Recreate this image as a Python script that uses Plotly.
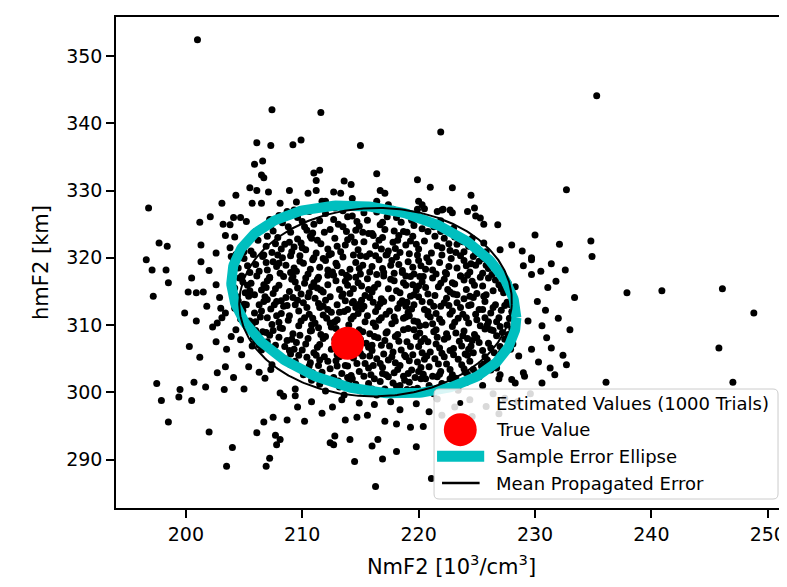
import numpy as np
import plotly.graph_objects as go

# ---------------- data ----------------
core_points = [
(207.5,324.0),(208.3,325.2),(209.0,323.8),(209.6,326.0),(210.2,324.6),(210.9,323.7),(211.5,325.5),(212.0,326.6),(212.4,324.2),(213.1,325.0),(213.8,323.9),(214.3,326.2),(214.9,324.7),(215.6,325.6),(216.0,323.6),(216.7,324.9),(217.3,326.1),(217.9,324.0),(218.5,325.3),(219.0,323.8),(219.6,324.8),(220.2,326.0),(220.8,323.9),(221.3,324.6),(210.6,326.9),(213.5,327.0),(216.4,326.8),(218.9,326.7),(208.8,324.6),(215.2,323.8),
(205.6,321.0),(206.2,322.6),(206.9,321.7),(207.4,320.8),(207.9,323.0),(208.5,322.0),(209.1,320.9),(209.6,322.8),(210.0,321.5),(210.7,323.2),(211.2,320.7),(211.6,322.1),(212.2,321.3),(212.8,322.9),(213.3,320.9),(213.7,321.9),(214.2,323.1),(214.8,321.2),(215.3,322.4),(215.8,320.6),(216.3,321.8),(216.9,323.0),(217.4,321.0),(217.8,322.3),(218.4,320.8),(218.9,321.9),(219.5,323.2),(220.0,321.3),(220.5,322.5),(221.1,320.7),(221.6,321.8),(222.2,322.9),(222.7,321.1),(223.3,322.0),(223.9,320.9),(224.3,321.7),(212.5,320.6),(216.1,323.3),(219.2,320.6),(208.2,321.3),
(204.5,318.5),(205.0,319.9),(205.5,317.8),(206.0,319.0),(206.6,320.2),(207.0,318.2),(207.5,319.4),(208.1,317.7),(208.6,318.9),(209.0,320.3),(209.5,318.0),(210.1,319.2),(210.5,317.6),(211.0,320.0),(211.5,318.6),(212.0,319.6),(212.6,317.9),(213.0,318.8),(213.5,320.1),(214.1,318.3),(214.6,319.3),(215.0,317.6),(215.5,320.2),(216.0,318.7),(216.6,319.7),(217.0,317.8),(217.6,318.9),(218.1,320.1),(218.6,318.1),(219.1,319.4),(219.6,317.6),(220.2,318.8),(220.7,320.0),(221.2,318.2),(221.8,319.3),(222.3,317.8),(222.8,319.9),(223.3,318.5),(223.9,319.6),(224.4,317.9),(224.9,318.9),(225.5,317.7),(226.0,318.4),(212.3,320.4),(215.8,317.9),(219.9,320.4),(207.9,320.4),(223.6,320.3),
(204.2,315.5),(204.6,317.0),(205.1,314.8),(205.6,316.2),(206.1,317.3),(206.5,315.2),(207.0,316.6),(207.5,314.7),(208.0,315.9),(208.4,317.2),(208.9,315.0),(209.4,316.4),(209.9,314.6),(210.3,317.0),(210.8,315.7),(211.3,316.8),(211.8,314.9),(212.2,316.0),(212.7,317.4),(213.2,315.3),(213.7,316.5),(214.1,314.7),(214.6,317.1),(215.1,315.8),(215.6,316.9),(216.0,314.9),(216.5,316.1),(217.0,317.3),(217.4,315.4),(217.9,316.6),(218.4,314.8),(218.9,315.9),(219.3,317.2),(219.8,315.2),(220.3,316.4),(220.8,314.6),(221.2,317.0),(221.7,315.7),(222.2,316.8),(222.7,314.9),(223.1,316.1),(223.6,317.3),(224.1,315.3),(224.6,316.5),(225.0,314.7),(225.5,315.8),(226.0,317.0),(226.4,315.1),(226.9,316.0),(227.3,314.8),(213.5,314.6),(219.5,316.0),
(204.5,313.6),(204.9,312.2),(205.4,314.3),(205.9,311.8),(206.3,313.0),(206.8,314.2),(207.3,312.4),(207.8,313.5),(208.2,311.7),(208.7,312.9),(209.2,314.1),(209.7,312.1),(210.1,313.3),(210.6,311.6),(211.1,314.0),(211.5,312.6),(212.0,313.7),(212.5,311.9),(213.0,313.0),(213.4,314.3),(213.9,312.3),(214.4,313.5),(214.8,311.7),(215.3,312.8),(215.8,314.1),(216.3,312.0),(216.7,313.2),(217.2,311.6),(217.7,314.0),(218.2,312.5),(218.6,313.6),(219.1,311.9),(219.6,313.0),(220.0,314.2),(220.5,312.3),(221.0,313.4),(221.5,311.7),(221.9,312.8),(222.4,314.0),(222.9,312.1),(223.3,313.3),(223.8,311.6),(224.3,312.9),(224.7,314.1),(225.2,312.3),(225.7,313.5),(226.2,311.8),(226.6,313.0),(227.1,312.2),(227.6,313.4),(228.0,312.0),(211.8,311.5),
(205.5,310.6),(206.0,309.2),(206.4,311.2),(206.9,308.9),(207.4,310.1),(207.8,311.4),(208.3,309.5),(208.8,310.7),(209.2,308.7),(209.7,309.9),(210.2,311.1),(210.7,309.1),(211.1,310.3),(211.6,308.6),(212.1,311.0),(212.5,309.7),(213.0,310.8),(213.5,308.9),(214.0,310.0),(214.4,311.3),(214.9,309.3),(215.4,310.5),(215.8,308.7),(216.3,309.8),(216.8,311.1),(217.3,309.0),(217.7,310.2),(218.2,308.6),(218.7,311.0),(219.1,309.5),(219.6,310.6),(220.1,308.8),(220.6,310.0),(221.0,311.2),(221.5,309.3),(222.0,310.4),(222.4,308.7),(222.9,309.8),(223.4,311.0),(223.9,309.1),(224.3,310.3),(224.8,308.6),(225.3,309.9),(225.7,311.1),(226.2,309.3),(226.7,310.5),(227.2,308.9),(227.6,310.0),(228.0,309.4),(219.2,311.4),
(207.0,307.5),(207.5,306.1),(208.0,308.2),(208.5,306.8),(209.0,305.7),(209.5,307.4),(210.0,306.3),(210.5,308.0),(211.0,305.9),(211.5,307.1),(212.0,308.3),(212.5,306.4),(213.0,305.6),(213.6,306.9),(214.3,308.2),(215.0,305.8),(215.5,307.3),(216.0,306.2),(216.5,308.1),(217.0,305.7),(217.5,306.9),(218.0,308.3),(218.5,306.3),(219.0,307.5),(219.5,305.6),(220.0,306.8),(220.5,308.0),(221.0,306.0),(221.5,307.2),(222.0,305.8),(222.5,308.2),(223.0,306.5),(223.5,307.6),(224.0,305.7),(224.5,306.9),(225.0,308.1),(225.5,306.2),(226.0,307.3),(226.5,305.9),(227.0,306.8),(227.4,307.9),(212.8,307.9),(218.8,305.5),(223.8,308.4),
(209.4,304.6),(209.9,303.3),(210.4,305.2),(210.9,302.9),(211.4,304.0),(211.9,305.3),(212.4,303.5),(212.9,304.7),(213.4,302.8),(213.9,303.9),(214.4,305.1),(214.9,303.1),(215.4,304.3),(215.9,302.6),(216.4,305.0),(216.9,303.7),(217.4,304.8),(217.9,302.9),(218.4,304.0),(218.9,305.3),(219.4,303.3),(219.9,304.5),(220.4,302.7),(220.9,303.8),(221.4,305.0),(221.9,303.1),(222.4,304.2),(222.9,302.6),(223.4,304.9),(223.9,303.5),(224.4,304.6),(224.9,302.9),(225.4,303.9),(225.9,304.8),
(212.5,301.9),(213.2,300.8),(213.9,302.2),(214.6,301.2),(215.3,302.4),(216.0,300.5),(216.7,301.6),(217.4,302.3),(218.1,300.9),(218.8,301.8),(219.5,300.4),(220.2,302.0),(220.9,301.0),(221.6,302.3),(222.3,300.7),(223.0,301.6),
]

core_points_2 = [
(208.0,326.3),(209.3,327.1),(211.0,325.0),(212.8,327.4),(214.7,325.4),(215.9,327.5),(217.8,327.2),(219.4,325.6),(220.5,327.3),(221.9,325.5),(210.0,325.4),(213.9,326.1),(216.9,325.3),(218.3,323.3),
(205.2,322.4),(206.0,323.9),(206.7,320.4),(207.3,324.8),(208.9,322.3),(209.3,321.6),(210.4,324.1),(211.3,322.6),(211.9,323.8),(213.0,321.7),(213.5,324.6),(214.5,322.3),(215.0,320.3),(215.7,323.6),(216.6,322.6),(217.1,324.2),(218.0,321.4),(218.7,323.9),(219.8,322.0),(220.3,324.3),(221.4,323.2),(222.0,321.5),(222.5,324.0),(223.1,323.1),(223.8,322.4),(224.6,322.9),(225.1,321.3),(225.6,322.2),(209.8,320.3),(217.2,320.4),
(204.1,319.6),(204.8,317.3),(205.8,320.5),(206.3,318.0),(207.2,317.1),(207.8,318.7),(208.3,320.0),(209.2,317.2),(209.8,319.5),(210.7,318.3),(211.4,317.1),(212.2,318.2),(212.9,319.2),(213.8,317.4),(214.4,320.4),(215.2,318.9),(216.3,320.3),(216.9,318.4),(217.3,320.5),(218.3,319.0),(218.9,317.3),(219.5,318.6),(220.4,317.2),(220.9,319.4),(221.5,317.6),(222.0,320.4),(222.6,318.7),(223.6,317.3),(224.1,318.8),(224.7,320.2),(225.2,319.5),(225.8,318.9),(226.3,317.5),(205.3,318.8),(210.9,319.7),(214.0,317.1),
(203.9,316.3),(204.4,314.2),(205.3,315.9),(205.9,314.5),(206.7,316.0),(207.2,317.0),(207.7,315.4),(208.6,314.1),(209.1,316.8),(209.6,315.5),(210.5,314.2),(211.0,316.3),(211.6,315.2),(212.4,314.2),(212.9,316.6),(213.9,315.9),(214.3,313.3),(214.8,316.3),(215.4,314.4),(216.2,315.6),(216.8,313.9),(217.6,316.8),(218.1,315.1),(218.7,316.3),(219.6,314.5),(220.1,317.2),(220.6,315.6),(221.4,314.4),(221.9,316.2),(222.5,315.3),(223.3,314.5),(223.9,316.7),(224.4,314.3),(224.8,315.9),(225.3,317.1),(225.8,314.5),(226.6,316.7),(227.1,315.4),(227.7,316.2),(228.0,314.4),(208.2,313.6),(219.0,313.4),
(204.2,312.5),(204.7,310.9),(205.2,313.0),(205.7,310.1),(206.5,312.1),(207.0,311.1),(207.6,313.0),(208.0,310.4),(208.9,311.4),(209.4,313.0),(209.9,310.6),(210.4,312.6),(210.9,311.0),(211.4,313.2),(212.2,312.3),(212.8,310.5),(213.2,311.9),(213.7,313.6),(214.2,310.9),(214.6,312.6),(215.1,313.7),(215.6,311.4),(216.1,310.3),(216.5,312.7),(217.0,313.5),(217.5,312.1),(218.0,310.6),(218.4,313.2),(218.9,311.2),(219.4,312.4),(219.9,310.5),(220.3,313.5),(220.8,311.5),(221.3,312.8),(221.8,310.9),(222.2,313.3),(222.7,311.6),(223.1,310.4),(223.6,312.6),(224.1,311.1),(224.5,313.0),(225.0,310.8),(225.5,312.3),(226.0,310.5),(226.4,312.6),(226.9,311.1),(227.4,312.9),(227.8,311.0),(228.2,310.6),
(205.8,308.2),(206.3,307.0),(206.6,309.0),(207.2,308.5),(207.7,307.0),(208.1,309.6),(208.7,307.7),(209.3,306.4),(209.8,308.5),(210.3,307.2),(210.8,309.2),(211.3,306.7),(211.8,308.0),(214.8,306.5),(215.2,309.0),(215.7,306.7),(216.2,308.3),(216.8,307.0),(217.2,308.8),(217.8,306.0),(218.3,307.6),(218.7,309.3),(219.3,306.8),(219.8,308.3),(220.3,305.9),(220.8,307.5),(221.3,309.0),(221.8,306.6),(222.2,307.9),(222.7,306.2),(223.2,308.8),(223.7,306.9),(224.2,308.0),(224.7,305.9),(225.2,307.4),(225.7,309.4),(226.2,306.6),(226.7,308.4),(227.2,306.3),(227.7,308.6),(228.1,307.2),
(208.5,305.0),(209.0,304.1),(209.7,305.5),(210.1,302.6),(210.7,304.4),(211.2,305.5),(211.7,303.0),(212.2,304.6),(212.7,302.2),(213.2,305.3),(213.7,304.0),(214.2,302.5),(214.7,304.3),(215.2,305.4),(215.7,303.6),(216.2,302.0),(216.7,304.3),(217.2,302.6),(217.7,305.3),(218.2,303.4),(218.7,302.4),(219.2,304.7),(219.7,302.2),(220.2,303.7),(220.7,305.4),(221.2,302.4),(221.7,304.2),(222.2,305.3),(222.7,303.4),(223.2,302.1),(223.7,304.1),(224.2,305.5),(224.7,303.4),(225.2,302.3),(225.7,305.3),(226.2,303.3),(226.6,304.3),(227.0,302.6),
(211.5,301.2),(212.0,300.2),(213.6,299.6),(214.3,302.0),(215.0,300.2),(215.7,301.3),(216.4,299.6),(217.1,300.5),(217.8,301.4),(218.5,299.7),(219.2,301.5),(219.9,300.6),(220.6,302.0),(221.3,299.8),(222.0,301.3),(222.7,302.0),(223.4,300.3),(224.1,301.5),(224.8,302.2),(225.5,301.0),(210.8,301.8),
]

core_points_3 = [
(206.4,324.3),(209.9,322.2),(212.7,325.7),(215.3,326.7),(218.1,326.0),(220.9,325.3),(223.0,324.4),(207.7,322.1),(210.3,321.2),(213.9,322.7),(216.8,321.3),(219.3,322.5),(221.9,323.9),(224.9,320.6),(205.0,320.9),(206.9,319.3),(209.3,318.5),(211.8,319.9),(214.9,318.4),(217.7,319.6),(220.6,318.3),(223.2,320.8),(225.6,319.9),(204.9,316.4),(206.9,315.6),(209.0,317.8),(211.3,315.5),(213.4,317.8),(215.7,315.3),(217.9,317.7),(220.0,315.8),(222.4,317.6),(224.2,317.4),(226.7,317.9),(228.3,315.7),(205.0,313.1),(207.0,313.8),(209.6,313.7),(211.8,312.8),(213.6,312.0),(216.1,313.4),(218.9,312.8),(220.8,312.0),(223.0,314.6),(225.6,314.3),(227.9,313.0),(206.0,310.5),(208.4,312.8),(210.8,310.0),(212.9,309.5),(215.1,312.4),(217.9,311.2),(220.1,309.9),(222.6,312.9),(224.9,311.6),(227.0,309.8),(206.5,306.3),(208.9,306.2),(211.4,309.6),(215.0,307.9),(217.1,307.7),(219.6,309.3),(221.6,308.2),(224.3,306.4),(226.4,309.2),(210.6,303.9),(213.0,303.9),(215.8,305.4),(218.0,304.4),(220.5,304.9),(223.0,305.6),(225.6,304.2),(214.0,301.4),(216.9,302.8),(219.1,302.8),(221.8,302.7),(224.2,302.7),
(208.7,326.9),(211.9,327.9),(214.5,327.8),(217.4,327.9),(219.9,327.2),(207.0,323.2),(210.8,322.9),(214.6,324.1),(218.2,322.6),(222.6,322.1),(225.8,320.9),(204.3,320.5),(208.0,319.2),(212.2,317.4),(216.4,317.5),(220.0,319.6),(224.5,319.1),(205.5,315.1),(210.2,316.2),(214.4,315.4),(218.6,317.8),(222.9,316.3),(227.4,316.9),(206.7,313.5),(210.6,314.8),(214.9,313.1),(219.3,314.3),(223.9,313.9),(228.4,312.4),(207.5,309.2),(212.4,310.3),(216.6,310.7),(221.2,310.2),(225.9,310.0),(209.1,307.9),(216.0,307.0),(220.2,307.5),(224.6,307.7),(227.9,306.4),(211.5,304.8),(216.1,304.0),(220.0,303.1),(224.0,303.0),(226.7,303.6),(217.6,300.0),(221.0,300.6),(213.1,301.7),
]

outer_points = [
(201.0,352.4),(207.4,342.0),(211.6,341.6),(221.9,338.7),(206.1,337.1),(207.3,336.7),(209.2,336.8),(209.9,337.5),(215.0,336.7),(205.9,333.9),(206.6,334.4),(206.5,332.3),(206.7,331.9),(211.0,332.6),(211.5,333.0),(211.2,331.5),(216.4,332.5),(213.6,331.4),(214.2,330.9),(219.9,331.6),(221.0,330.5),(205.5,330.4),(206.1,330.0),(207.1,329.8),(208.9,330.0),(210.5,329.6),(211.2,330.0),(212.7,329.8),(213.3,329.6),(216.7,330.0),(217.1,329.6),(204.3,329.3),(196.8,327.4),(203.1,328.1),(205.7,328.1),(206.5,328.1),(208.1,328.1),(209.5,328.3),(211.7,328.4),(212.0,328.4),(214.3,328.8),(216.4,328.4),(220.0,328.4),(220.3,327.9),(221.6,326.9),(222.1,327.2),(201.2,325.3),(202.1,326.1),(203.2,325.0),(203.8,324.9),(204.1,326.0),(204.7,326.0),(205.2,325.4),(197.7,322.2),(198.4,321.7),(201.3,321.9),(204.2,323.1),(196.6,319.7),(201.3,319.4),(203.8,321.5),(203.9,320.2),
(235.3,344.1),(222.9,330.4),(224.5,329.3),(232.7,330.1),(222.0,327.1),(222.7,327.1),(222.9,326.7),(224.2,326.9),(224.8,327.4),(224.9,326.2),(225.3,325.9),(225.6,325.0),(226.8,324.9),(234.8,322.5),(234.9,320.2),(227.0,321.2),(228.0,321.9),(228.9,321.0),(229.7,319.7),(231.4,319.1),
(197.1,318.2),(198.3,318.2),(198.5,316.3),(197.2,314.3),(200.2,314.9),(200.9,314.8),(201.5,314.9),(202.6,316.0),(199.9,311.8),(200.9,310.6),(202.3,309.7),(202.7,310.3),(203.1,311.1),(203.0,312.5),(203.4,311.8),(203.9,308.3),(204.3,309.3),(201.2,305.2),(203.4,303.8),(204.8,305.6),(197.5,301.3),(197.9,298.8),(198.5,295.6),(199.5,300.4),(199.4,299.3),(200.5,298.8),(200.7,301.5),(201.7,300.8),(203.3,300.4),(202.0,294.1),(204.0,291.8),(203.5,289.0),(206.3,303.0),(206.8,302.1),(207.3,303.4),(208.1,299.9),(208.4,299.4),(209.4,300.5),(209.4,299.5),(209.6,297.8),(206.7,295.6),(207.5,296.3),(208.7,295.9),(210.2,295.7),(206.1,294.0),(207.7,293.6),(208.1,293.0),(207.8,292.2),(207.2,290.2),(206.9,289.0),(212.6,297.8),(212.4,292.5),(212.8,293.5),(212.7,292.2),(213.7,295.9),(214.7,296.3),(214.1,293.0),(214.5,289.7),(216.0,292.0),(216.5,293.0),(216.2,298.2),(216.9,290.1),(216.3,286.0),(217.1,295.7),(218.1,295.3),(218.1,291.2),(219.3,294.8),(220.4,294.9),(221.1,287.2),(218.4,301.0),(219.0,300.4),
(204.7,307.8),(205.7,306.9),(206.0,307.6),(207.4,304.1),(218.4,297.4),
(229.4,310.6),(229.7,306.4),(228.6,305.4),(229.0,302.9),(229.1,302.4),(228.0,301.9),(228.3,301.4),(226.9,302.0),(227.1,305.9),(229.7,320.0),(229.0,318.8),(229.7,317.5),(207.2,325.7),
(230.6,309.9),(231.0,308.1),(231.4,306.6),(232.4,305.5),(232.7,304.1),(231.7,302.6),(230.6,301.4),(230.2,313.5),(231.1,315.6),(230.0,323.4),(232.1,322.0),(226.4,299.8),(224.4,298.9),(222.0,296.6),(223.8,294.3),
(230.5,318.0),(231.8,316.5),(230.9,312.2),(232.0,311.0),(233.0,309.3),(230.3,304.5),(231.3,303.6),(229.6,299.8),(228.5,298.6),(227.4,299.1),(233.4,314.1),(232.6,318.2),
(210.8,298.6),(211.7,296.9),(213.4,298.9),(214.9,298.4),(215.6,296.6),(217.6,298.6),(219.8,298.3),(220.9,297.1),(221.6,299.0),(223.1,297.8),(224.6,296.4),(225.8,297.9),(226.9,296.8),(222.7,293.2),(219.8,291.9),
(202.0,318.1),(200.5,317.0),(202.9,314.1),(201.8,312.8),(203.5,306.4),(202.6,307.5),(200.3,306.8),(204.1,302.2),(205.4,303.8),(202.7,302.9),(205.0,300.5),(203.4,323.3),(202.6,320.7),
(237.9,314.8),(240.9,315.1),(246.1,315.4),(248.8,311.8),(245.8,306.6),(247.0,301.5),(236.1,301.5),
]

true_value = (213.9, 307.3)

# error ellipses: centre, and the two column vectors of the shape matrix
sample_ellipse = dict(cx=216.15, cy=313.8, ax=12.25, ay=-2.7, bx=0.0, by=13.74)
propagated_ellipse = dict(cx=216.3, cy=313.4, ax=11.7, ay=-0.4, bx=0.5, by=14.0)

x_ticks = [200, 210, 220, 230, 240, 250]
y_ticks = [290, 300, 310, 320, 330, 340, 350]

legend_labels = ["Estimated Values (1000 Trials)", "True Value",
                 "Sample Error Ellipse", "Mean Propagated Error"]

# ---------------- figure ----------------
FONT = "DejaVu Sans"
pts = core_points + core_points_2 + core_points_3 + outer_points
tx = [p[0] for p in pts]
ty = [p[1] for p in pts]


def ellipse_xy(e, n=400):
    t = np.linspace(0, 2 * np.pi, n)
    return (e["cx"] + e["ax"] * np.cos(t) + e["bx"] * np.sin(t),
            e["cy"] + e["ay"] * np.cos(t) + e["by"] * np.sin(t))


fig = go.Figure()
fig.add_trace(go.Scatter(x=tx, y=ty, mode="markers",
                         marker=dict(color="black", size=7, line=dict(width=0)),
                         name=legend_labels[0], showlegend=False))
ex, ey = ellipse_xy(sample_ellipse)
fig.add_trace(go.Scatter(x=ex, y=ey, mode="lines", line=dict(color="#00BFBF", width=10),
                         name=legend_labels[2], showlegend=False))
ex, ey = ellipse_xy(propagated_ellipse)
fig.add_trace(go.Scatter(x=ex, y=ey, mode="lines", line=dict(color="black", width=2),
                         name=legend_labels[3], showlegend=False))
fig.add_trace(go.Scatter(x=[true_value[0]], y=[true_value[1]], mode="markers",
                         marker=dict(color="#FF0000", size=33, line=dict(width=0)),
                         name=legend_labels[1], showlegend=False))

L, R, T, B = 108, 781, 9, 500
W, H = R - L, B - T


def px(x):
    return (x - L) / W


def py(y):
    return (B - y) / H


shapes = []
# legend frame (rounded)
x0, x1, y0, y1, r = 427, 772, 381, 491, 5
rx, ry = r / W, r / H
path = (f"M {px(x0)+rx},{py(y0)} L {px(x1)-rx},{py(y0)} Q {px(x1)},{py(y0)} {px(x1)},{py(y0)-ry} "
        f"L {px(x1)},{py(y1)+ry} Q {px(x1)},{py(y1)} {px(x1)-rx},{py(y1)} "
        f"L {px(x0)+rx},{py(y1)} Q {px(x0)},{py(y1)} {px(x0)},{py(y1)+ry} "
        f"L {px(x0)},{py(y0)-ry} Q {px(x0)},{py(y0)} {px(x0)+rx},{py(y0)} Z")
shapes.append(dict(type="path", xref="paper", yref="paper", path=path,
                   fillcolor="rgba(255,255,255,0.85)", line=dict(color="#cccccc", width=1)))
rows = [395, 421.7, 448.3, 475]
cxm = 453.3
d = 6
shapes.append(dict(type="circle", xref="paper", yref="paper",
                   x0=px(cxm - d / 2), x1=px(cxm + d / 2), y0=py(rows[0] + d / 2), y1=py(rows[0] - d / 2),
                   fillcolor="black", line=dict(width=0)))
d = 33
shapes.append(dict(type="circle", xref="paper", yref="paper",
                   x0=px(cxm - d / 2), x1=px(cxm + d / 2), y0=py(rows[1] + d / 2), y1=py(rows[1] - d / 2),
                   fillcolor="#FF0000", line=dict(width=0)))
shapes.append(dict(type="line", xref="paper", yref="paper", x0=px(430), x1=px(477.3),
                   y0=py(rows[2]), y1=py(rows[2]), line=dict(color="#00BFBF", width=11)))
shapes.append(dict(type="line", xref="paper", yref="paper", x0=px(435), x1=px(472.7),
                   y0=py(rows[3]), y1=py(rows[3]), line=dict(color="black", width=2.5)))

annotations = []
for lab, yy in zip(legend_labels, rows):
    annotations.append(dict(xref="paper", yref="paper", x=px(486.7), y=py(yy), text=lab,
                            showarrow=False, xanchor="left", yanchor="middle",
                            font=dict(family=FONT, size=18, color="black")))

axis_common = dict(showgrid=False, zeroline=False, showline=True, mirror=True,
                   linecolor="black", linewidth=1.5, ticks="outside", ticklen=8,
                   tickwidth=1.5, tickcolor="black",
                   tickfont=dict(family=FONT, size=19, color="black"))

fig.update_layout(
    width=787, height=587,
    margin=dict(l=L, r=787 - R, t=T, b=587 - B),
    paper_bgcolor="white", plot_bgcolor="white",
    showlegend=False,
    xaxis=dict(range=[194.0, 251.65], tickvals=x_ticks,
               title=dict(text="NmF2 [10<sup>3</sup>/cm<sup>3</sup>]",
                          font=dict(family=FONT, size=21, color="black"), standoff=16),
               **axis_common),
    yaxis=dict(range=[282.8, 355.8], tickvals=y_ticks,
               title=dict(text="hmF2 [km]", font=dict(family=FONT, size=21, color="black"),
                          standoff=12),
               **axis_common),
    shapes=shapes, annotations=annotations,
)

fig.write_html("out.html")
